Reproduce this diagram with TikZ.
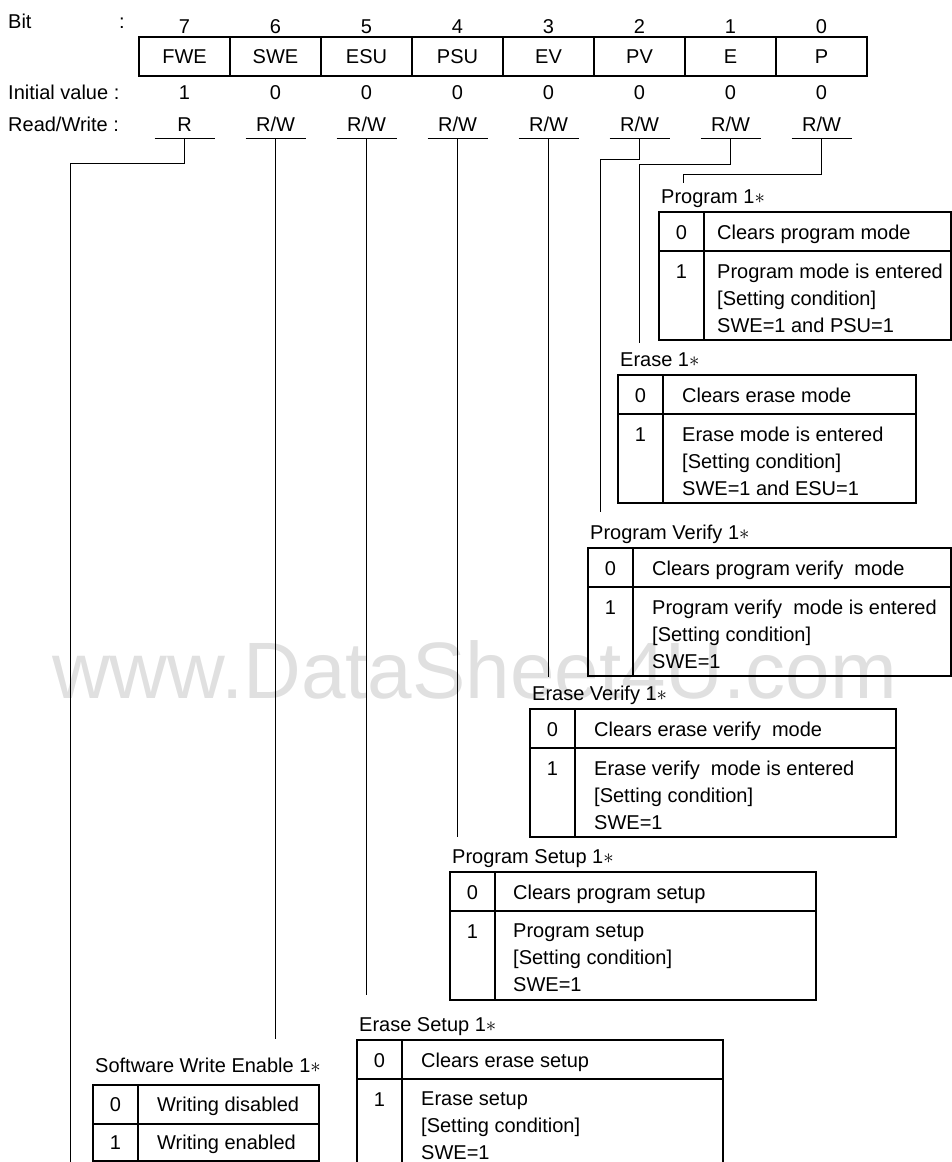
\documentclass[tikz,border=0pt]{standalone}
\usepackage{fontspec}
\setmainfont{Liberation Sans}
\usepackage{tikz}
\usetikzlibrary{calc}
\newcommand{\RW}{R/W}
% #1 name, #2 divider x, #3 right x, #4 top y, #5 text offset, #6 title, #7 row 0, #8 row 1
\newcommand{\modetable}[8]{%
  \draw[tbl] (#2-45,#4) rectangle (#3,#4+128) (#2-45,#4+39) -- (#3,#4+39) (#2,#4) -- (#2,#4+128);
  \node[lbl, anchor=base west] (#1-title) at (#2-43,#4-9) {#6 1$\ast$};
  \node[lbl] (#1-v0) at (#2-22.5,#4+27) {0};
  \node[lbl] (#1-v1) at (#2-22.5,#4+66) {1};
  \node[lbl, anchor=base west] (#1-s0) at (#2+#5,#4+27) {#7};
  \node[lbl, anchor=north west, align=left] (#1-s1) at (#2+#5,#4+51.5) {#8};
}

\begin{document}
\begin{tikzpicture}[x=1pt, y=-1pt,
  lbl/.style={font=\fontsize{20}{27}\selectfont, inner sep=0pt, anchor=base},
  cell/.style={draw, line width=1.2pt, minimum width=91pt, minimum height=39pt,
               inner sep=0pt, font=\fontsize{20}{27}\selectfont},
  conn/.style={line width=1pt},
  tbl/.style={line width=1.2pt},
  wm/.style={font=\fontsize{80}{80}\selectfont, text=black!12, inner sep=0pt, anchor=base west},
]
\useasboundingbox (0,0) rectangle (952,1162);
\def\dx{91}
\node[wm] (wmark) at (52,698) {www.DataSheet4U.com};
% register header
\node[lbl, anchor=base west] (bitlbl) at (8,28) {Bit};
\node[lbl, anchor=base west] (bitcol) at (119,28) {:};
\node[lbl, anchor=base west] (initlbl) at (8,99) {Initial value :};
\node[lbl, anchor=base west] (rwlbl) at (8,131) {Read/Write :};
\foreach \b/\n/\v/\r [count=\i from 0] in {7/FWE/1/R, 6/SWE/0/\RW, 5/ESU/0/\RW, 4/PSU/0/\RW,
                                           3/EV/0/\RW, 2/PV/0/\RW, 1/E/0/\RW, 0/P/0/\RW} {
  \node[lbl] (num\b) at (184.5+\i*\dx,33) {\b};
  \node[cell] (reg\b) at (184.5+\i*\dx,56.5) {\n};
  \node[lbl] (init\b) at (184.5+\i*\dx,99) {\v};
  \node[lbl] (rw\b) at (184.5+\i*\dx,131) {\r};
  \coordinate (u\b) at (184.5+\i*\dx,138);
  \draw[conn] ($(u\b)+(-30,0)$) -- ($(u\b)+(30,0)$);
}
% connectors
\coordinate (k7) at (70,163);   \coordinate (e7) at (70,1162);
\coordinate (e6) at (275.5,1039);
\coordinate (e5) at (366.5,995);
\coordinate (e4) at (457.5,837);
\coordinate (e3) at (548.5,677);
\coordinate (k2) at (600,159);  \coordinate (e2) at (600,512);
\coordinate (k1) at (639,164);  \coordinate (e1) at (639,343);
\coordinate (k0) at (683,174);  \coordinate (e0) at (683,183);
\draw[conn] (u7) |- (k7) -- (e7);
\foreach \b in {6,5,4,3} \draw[conn] (u\b) -- (e\b);
\foreach \b in {2,1,0} \draw[conn] (u\b) |- (k\b) -- (e\b);
% bit tables
\modetable{prg}{704}{951}{212}{13}{Program}{Clears program mode}
  {Program mode is entered\\{}[Setting condition]\\SWE=1 and PSU=1}
\modetable{ers}{663}{916}{375}{19}{Erase}{Clears erase mode}
  {Erase mode is entered\\{}[Setting condition]\\SWE=1 and ESU=1}
\modetable{pv}{633}{951}{548}{19}{Program Verify}{Clears program verify~~mode}
  {Program verify~~mode is entered\\{}[Setting condition]\\SWE=1}
\modetable{ev}{575}{896}{709}{19}{Erase Verify}{Clears erase verify~~mode}
  {Erase verify~~mode is entered\\{}[Setting condition]\\SWE=1}
\modetable{psu}{495}{816}{872}{18}{Program Setup}{Clears program setup}
  {Program setup\\{}[Setting condition]\\SWE=1}
\modetable{esu}{402}{723}{1040}{19}{Erase Setup}{Clears erase setup}
  {Erase setup\\{}[Setting condition]\\SWE=1}
% SWE table
\draw[tbl] (93,1085) rectangle (319,1161) (93,1124) -- (319,1124) (138,1085) -- (138,1161);
\node[lbl, anchor=base west] (swe-title) at (95,1072) {Software Write Enable 1$\ast$};
\node[lbl] (swe-v0) at (115.5,1111) {0};
\node[lbl] (swe-v1) at (115.5,1149) {1};
\node[lbl, anchor=base west] (swe-s0) at (157,1111) {Writing disabled};
\node[lbl, anchor=base west] (swe-s1) at (157,1149) {Writing enabled};
\end{tikzpicture}
\end{document}
